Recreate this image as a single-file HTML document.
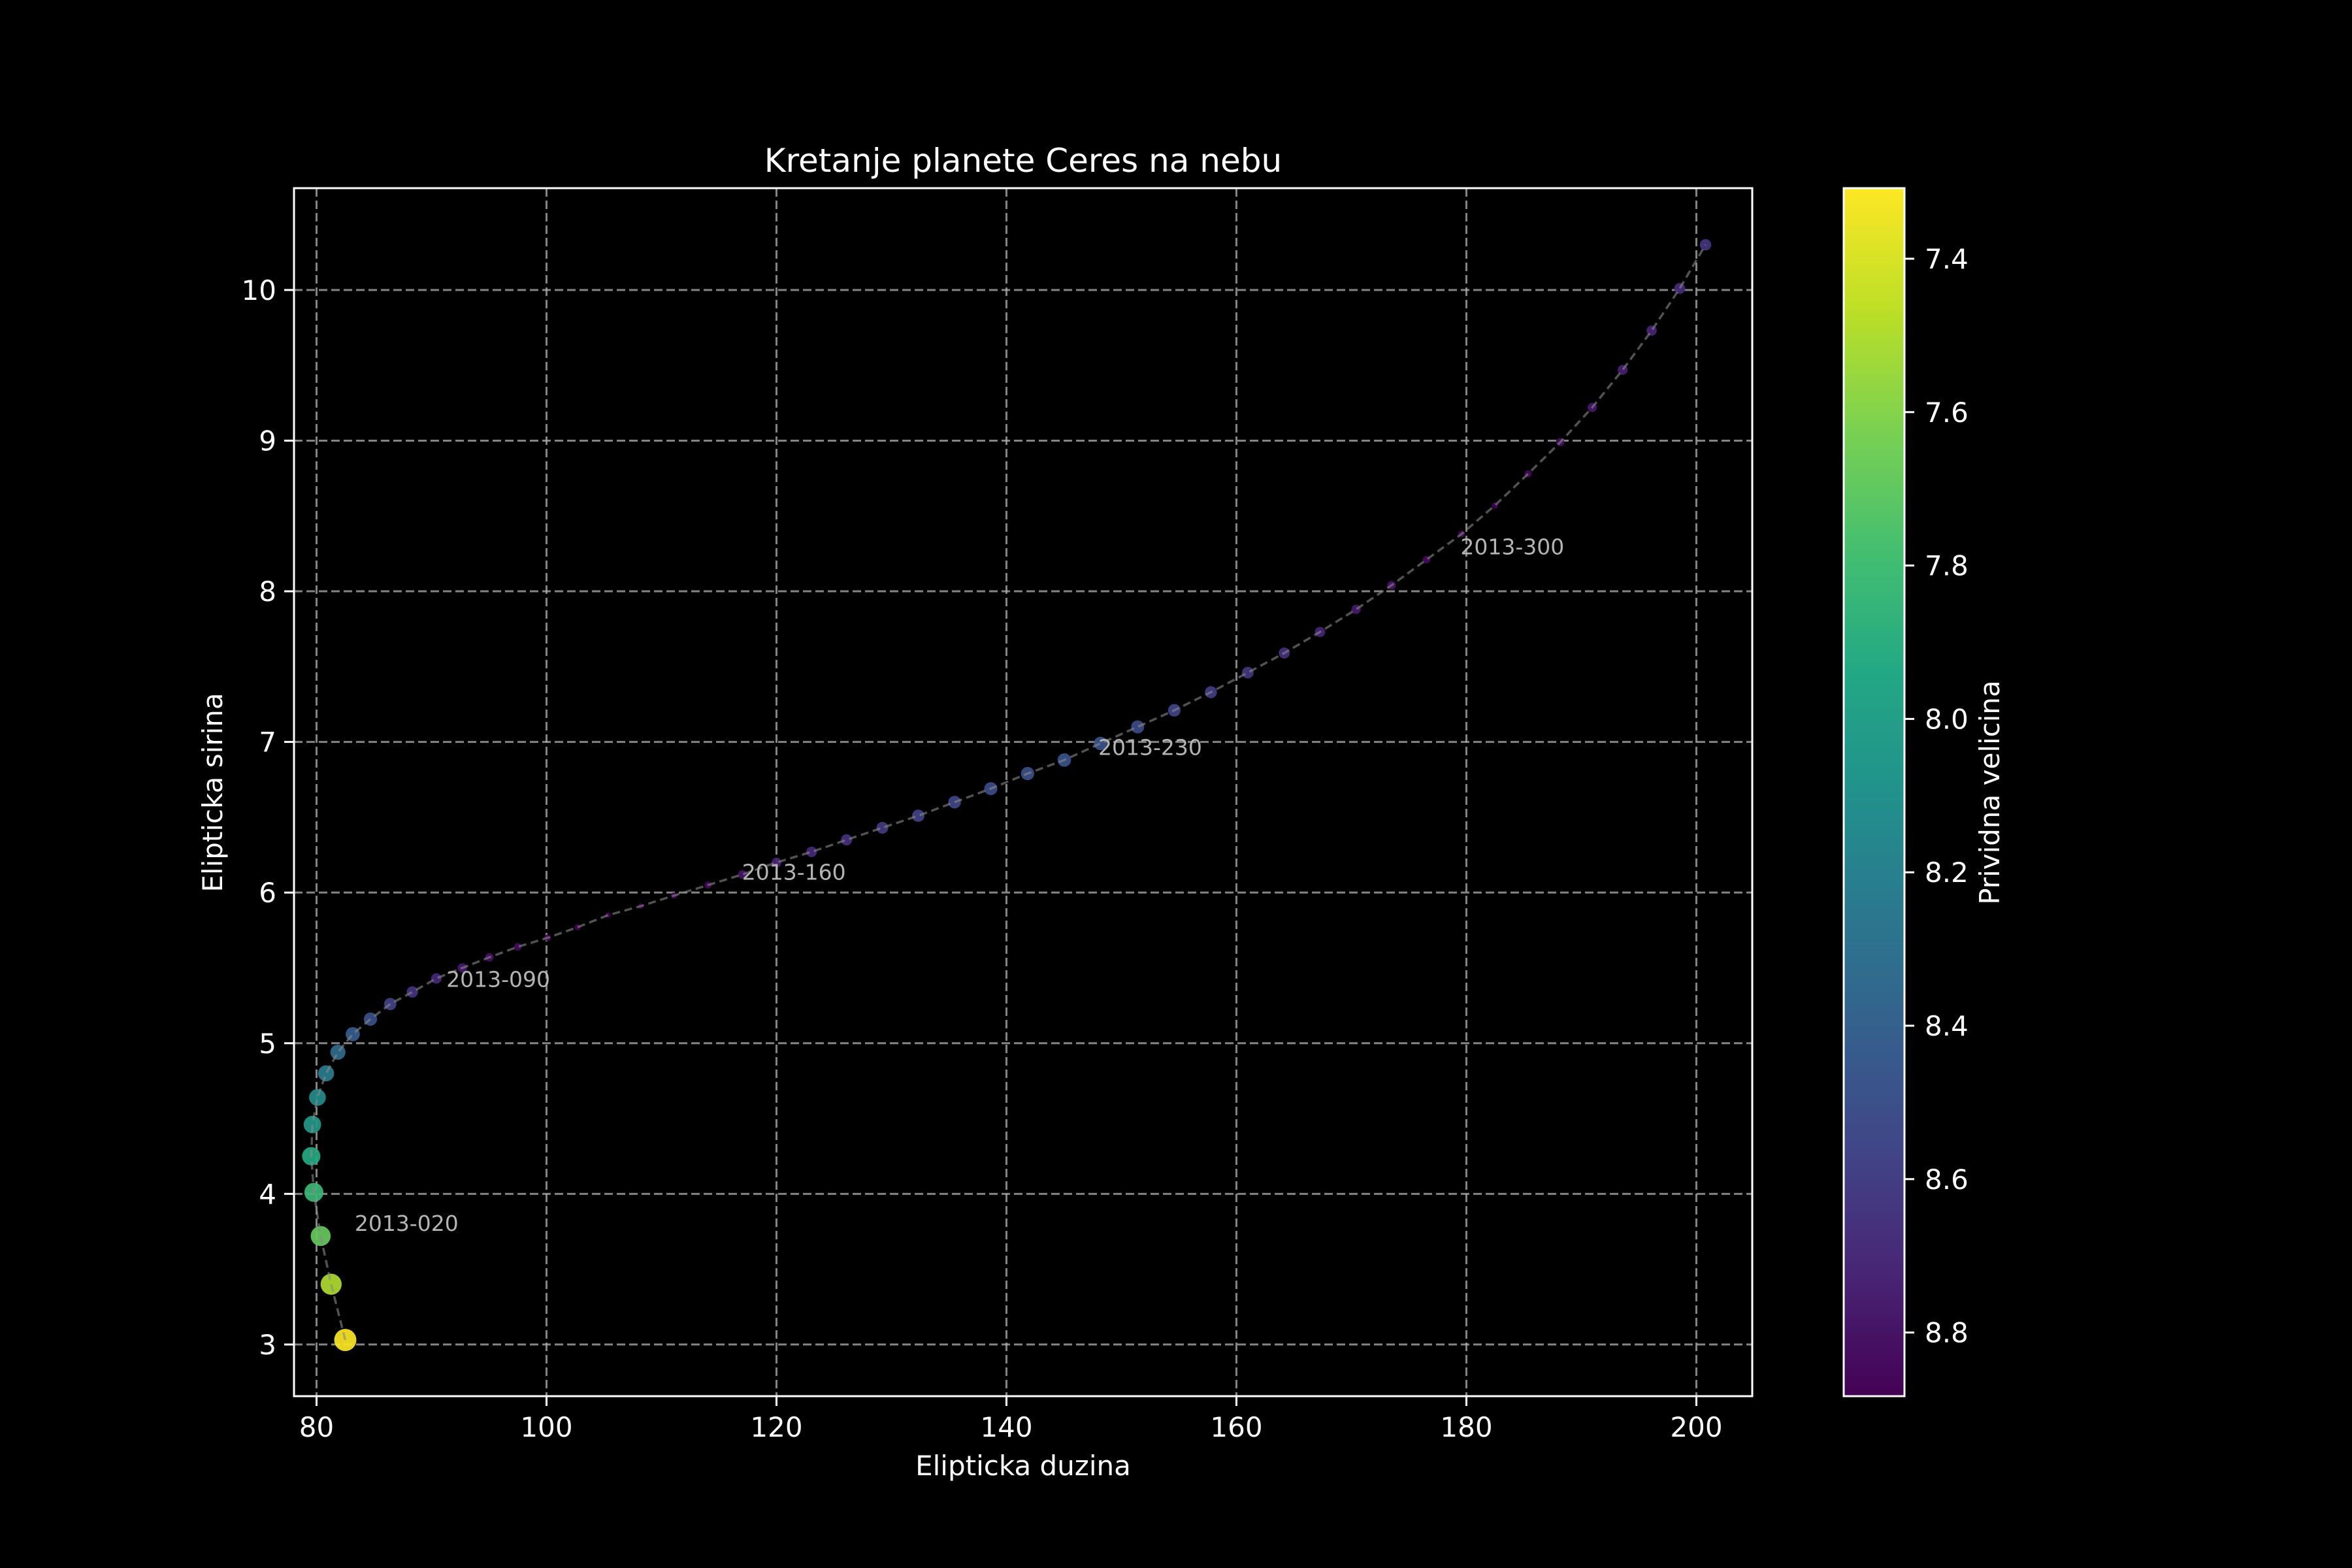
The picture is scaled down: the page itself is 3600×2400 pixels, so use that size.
<!DOCTYPE html>
<html><head><meta charset="utf-8"><style>
html,body{margin:0;padding:0;background:#000;}
svg{display:block;font-family:"DejaVu Sans","Liberation Sans",sans-serif;}
</style></head><body>
<svg id="chart" width="3600" height="2400" viewBox="0 0 3600 2400" xmlns="http://www.w3.org/2000/svg">
<rect x="0" y="0" width="3600" height="2400" fill="#000"/>
<g id="grid"></g>
<g id="points"></g>
<g id="path"></g>
<g id="annots"></g>
<rect x="450" y="288" width="2232" height="1849" fill="none" stroke="#fff" stroke-width="3"/>
<g id="xticks"></g>
<g id="yticks"></g>
<text x="1566" y="263" fill="#fff" font-size="50" text-anchor="middle">Kretanje planete Ceres na nebu</text>
<text x="1566" y="2258" fill="#fff" font-size="42" text-anchor="middle">Elipticka duzina</text>
<text x="0" y="0" transform="translate(340,1213) rotate(-90)" fill="#fff" font-size="42" text-anchor="middle">Elipticka sirina</text>
<defs>
<linearGradient id="vir" x1="0" y1="1" x2="0" y2="0"></linearGradient>
</defs>
<rect x="2822" y="288" width="93" height="1849" fill="url(#vir)" stroke="#fff" stroke-width="3"/>
<g id="cticks"></g>
<text x="0" y="0" transform="translate(3060,1213) rotate(-90)" fill="#fff" font-size="42" text-anchor="middle">Prividna velicina</text>
</svg>
<script>
const lon = [82.5,81.27,80.36,79.77,79.54,79.64,80.08,80.83,81.86,83.15,84.69,86.41,88.33,90.42,92.68,95.03,97.5,100.1,102.7,105.35,108.2,111.08,114.05,117.03,120.0,123.05,126.09,129.21,132.33,135.49,138.64,141.84,145.03,148.18,151.41,154.6,157.78,160.99,164.16,167.27,170.41,173.49,176.53,179.58,182.48,185.37,188.17,190.94,193.59,196.11,198.55,200.8];
const lat = [3.03,3.40,3.72,4.01,4.25,4.46,4.64,4.80,4.94,5.06,5.16,5.26,5.34,5.43,5.50,5.57,5.64,5.70,5.77,5.85,5.91,5.98,6.05,6.12,6.20,6.27,6.35,6.43,6.51,6.60,6.69,6.79,6.88,6.99,7.10,7.21,7.33,7.46,7.59,7.73,7.88,8.04,8.21,8.38,8.57,8.78,8.99,9.22,9.47,9.73,10.01,10.30];
const mag = [7.31,7.5,7.68,7.82,7.93,8.04,8.13,8.22,8.32,8.42,8.5,8.58,8.65,8.71,8.77,8.81,8.84,8.86,8.87,8.88,8.88,8.87,8.85,8.8,8.75,8.7,8.66,8.62,8.58,8.55,8.52,8.5,8.48,8.48,8.52,8.56,8.6,8.63,8.67,8.72,8.77,8.8,8.84,8.86,8.87,8.85,8.82,8.78,8.74,8.72,8.68,8.65];
const labelIdx = [2,12,22,32,42];
const labelText = ["2013-020","2013-090","2013-160","2013-230","2013-300"];
const xTicks = [80,100,120,140,160,180,200];
const yTicks = [3,4,5,6,7,8,9,10];
const cTicks = [7.4,7.6,7.8,8.0,8.2,8.4,8.6,8.8];

const NS="http://www.w3.org/2000/svg";
const L=450,R=2682,T=288,B=2137;
const X0=78.04,X1=204.86,Y0=2.657,Y1=10.676;
const CMIN=7.308,CMAX=8.883;
function sx(v){return L+(v-X0)/(X1-X0)*(R-L);}
function sy(v){return B-(v-Y0)/(Y1-Y0)*(B-T);}
function cy(v){return T+(v-CMIN)/(CMAX-CMIN)*(B-T);}
const VIR=[[68,1,84],[72,36,117],[65,68,135],[53,95,141],[42,120,142],[33,145,140],[34,168,132],[68,191,112],[122,209,81],[189,223,38],[253,231,37]];
function viridis(t){t=Math.max(0,Math.min(1,t));const f=t*10,i=Math.min(9,Math.floor(f)),r=f-i;const a=VIR[i],b=VIR[i+1];return `rgb(${Math.round(a[0]+(b[0]-a[0])*r)},${Math.round(a[1]+(b[1]-a[1])*r)},${Math.round(a[2]+(b[2]-a[2])*r)})`;}
function mk(tag,attrs,parent){const e=document.createElementNS(NS,tag);for(const k in attrs)e.setAttribute(k,attrs[k]);parent.appendChild(e);return e;}

const grad=document.getElementById('vir');
VIR.forEach((c,i)=>{mk('stop',{offset:(i*10)+'%','stop-color':`rgb(${c[0]},${c[1]},${c[2]})`},grad);});

const grid=document.getElementById('grid');
xTicks.forEach(v=>{const e=mk('line',{x1:sx(v),x2:sx(v),y1:T,y2:B,stroke:'#b0b0b0','stroke-opacity':0.75,'stroke-width':3,'stroke-dasharray':'13,6'},grid);

});
yTicks.forEach(v=>{const e=mk('line',{x1:L,x2:R,y1:sy(v),y2:sy(v),stroke:'#b0b0b0','stroke-opacity':0.75,'stroke-width':3,'stroke-dasharray':'13,6'},grid);

});

const pts=document.getElementById('points');
for(let i=0;i<lon.length;i++){const t=Math.max(0,(CMAX-mag[i])/(CMAX-CMIN));const r=3.5+13.5*Math.sqrt(t);
const e=mk('circle',{cx:sx(lon[i]),cy:sy(lat[i]),r:r,fill:viridis(t),'fill-opacity':0.92},pts);

}

const pg=document.getElementById('path');
const d=lon.map((v,i)=>(i?'L':'M')+sx(v).toFixed(1)+','+sy(lat[i]).toFixed(1)).join(' ');
const pl=mk('path',{d:d,fill:'none',stroke:'#888','stroke-opacity':0.6,'stroke-width':3.5,'stroke-dasharray':'12,7'},pg);



const an=document.getElementById('annots');
labelIdx.forEach((k,j)=>{const e=mk('text',{x:sx(lon[k])+52,y:sy(lat[k])-8,fill:'#b4b4b4','font-size':33},an);e.textContent=labelText[j];

});

const xt=document.getElementById('xticks');
xTicks.forEach(v=>{const l=mk('line',{x1:sx(v),x2:sx(v),y1:B,y2:B+15,stroke:'#fff','stroke-width':3},xt);


const t=mk('text',{x:sx(v),y:B+62,fill:'#fff','font-size':42,'text-anchor':'middle'},xt);t.textContent=v;

});
const yt=document.getElementById('yticks');
yTicks.forEach(v=>{const l=mk('line',{x1:L-15,x2:L,y1:sy(v),y2:sy(v),stroke:'#fff','stroke-width':3},yt);


const t=mk('text',{x:L-27,y:sy(v)+15,fill:'#fff','font-size':42,'text-anchor':'end'},yt);t.textContent=v;

});
const ct=document.getElementById('cticks');
cTicks.forEach(v=>{const l=mk('line',{x1:2915,x2:2930,y1:cy(v),y2:cy(v),stroke:'#fff','stroke-width':3},ct);


const t=mk('text',{x:2946,y:cy(v)+15,fill:'#fff','font-size':42},ct);t.textContent=v.toFixed(1);

});
</script>
</body></html>
